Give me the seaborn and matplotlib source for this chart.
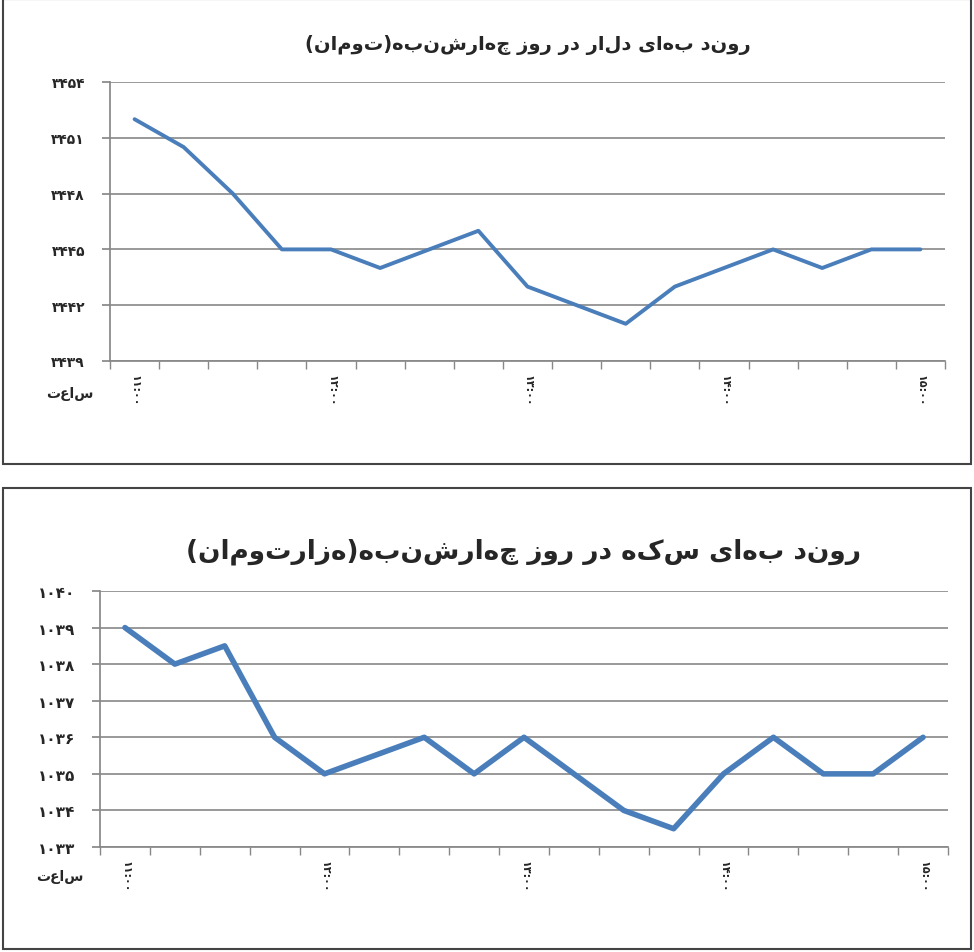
import matplotlib
matplotlib.use("Agg")
import matplotlib.pyplot as plt
import seaborn as sns
import pandas as pd
from matplotlib.patches import Rectangle

sns.set_theme(style="white")
plt.rcParams['font.family'] = ['DejaVu Sans']

dollar = [3452, 3450.5, 3448, 3445, 3445, 3444, 3445, 3446, 3443, 3442, 3441, 3443, 3444, 3445, 3444, 3445, 3445]
coin = [1039, 1038, 1038.5, 1036, 1035, 1035.5, 1036, 1035, 1036, 1035, 1034, 1033.5, 1035, 1036, 1035, 1035, 1036]
time_labels = ["۱۱:۰۰", "۱۲:۰۰", "۱۳:۰۰", "۱۴:۰۰", "۱۵:۰۰"]
dollar_ticks = [3439, 3442, 3445, 3448, 3451, 3454]
coin_ticks = [1033, 1034, 1035, 1036, 1037, 1038, 1039, 1040]
title1 = "روند بهای دلار در روز چهارشنبه(تومان)"
title2 = "روند بهای سکه در روز چهارشنبه(هزارتومان)"
hour_word = "ساعت"

def fa(n):
    return str(n).translate(str.maketrans("0123456789", "۰۱۲۳۴۵۶۷۸۹"))

def vis(s):
    return s[::-1].translate(str.maketrans("()", ")("))

fig = plt.figure(figsize=(9.74, 9.53), dpi=100)
for (x0, y0, w, h) in [(3, 488, 968, 465), (3, 3, 968, 461)]:
    fig.patches.append(Rectangle((x0/974, y0/953), w/974, h/953, transform=fig.transFigure,
                                 fill=False, edgecolor="#444444", lw=1.5))

def draw(ax, vals, ticks, title, tsize, lw, ysize):
    df = pd.DataFrame({"i": range(len(vals)), "v": vals})
    sns.lineplot(data=df, x="i", y="v", ax=ax, color="#4a7ebb", lw=lw)
    ax.set_ylim(ticks[0], ticks[-1])
    ax.set_yticks(ticks)
    ax.set_yticklabels([fa(t) for t in ticks], fontsize=ysize, fontweight="bold")
    ax.yaxis.grid(True, color="#888888", lw=1.2)
    ax.set_xlim(-0.3, len(vals) - 0.7)
    ax.set_xticks(range(0, len(vals), 4))
    ax.set_xticklabels(time_labels, rotation=-90, fontsize=8, fontweight="bold")
    ax.set_xticks([i + 0.5 for i in range(-1, len(vals))], minor=True)
    ax.tick_params(axis="x", which="minor", length=6, color="#888888", bottom=True)
    ax.tick_params(axis="y", length=6, color="#888888", left=True, pad=12)
    ax.set_xlabel(""); ax.set_ylabel("")
    for s in ["top", "right"]:
        ax.spines[s].set_visible(False)
    for s in ["left", "bottom"]:
        ax.spines[s].set_color("#888888")
    ax.set_title(vis(title), fontsize=tsize, fontweight="bold", pad=24)
    ax.text(-0.02, -0.13, vis(hour_word), transform=ax.transAxes, ha="right",
            fontsize=10, fontweight="bold")

ax1 = fig.add_axes([110/974, 1 - 362/953, (945-110)/974, (362-83)/953])
draw(ax1, dollar, dollar_ticks, title1, 14, 2.8, 10)
ax2 = fig.add_axes([100/974, 1 - 848/953, (948-100)/974, (848-592)/953])
draw(ax2, coin, coin_ticks, title2, 19, 4, 11)
fig.savefig("out.png", dpi=100)
